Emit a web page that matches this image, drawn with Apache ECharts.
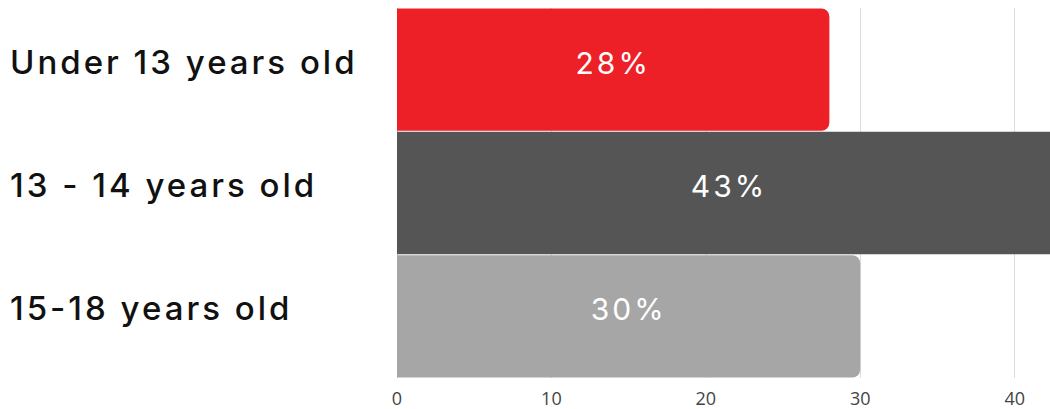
<!DOCTYPE html>
<html><head><meta charset="utf-8">
<script src="https://cdn.jsdelivr.net/npm/echarts@6/dist/echarts.min.js"></script>
<style>
html,body{margin:0;padding:0;background:#fff}
#c{width:1050px;height:409px}
#c text[style*="Inter"]{letter-spacing:3px}
</style>
</head><body><div id="c"></div>
<script>
const categories = ["Under 13 years old", "13 - 14 years old", "15-18 years old"];
const values = [28, 43, 30];
const barColors = ["#ED2027", "#555555", "#A6A6A6"];
const xTicks = [0, 10, 20, 30, 40];

const chart = echarts.init(document.getElementById('c'), null, { renderer: 'svg' });
chart.setOption({
  animation: false,
  grid: { left: 397, right: -11, top: 8, bottom: 31, containLabel: false, outerBoundsMode: 'none' },
  xAxis: {
    type: 'value', min: 0, max: 43, interval: 10,
    axisLine: { show: false }, axisTick: { show: false },
    splitLine: { show: true, lineStyle: { color: '#dddddd', width: 1 } },
    axisLabel: {
      color: '#444', fontFamily: 'Open Sans', fontSize: 18, margin: 11,
      formatter: v => xTicks.includes(v) ? String(v) : ''
    }
  },
  yAxis: {
    type: 'category', data: categories, inverse: true,
    axisLine: { show: false }, axisTick: { show: false },
    axisLabel: { align: 'left', margin: 387, color: '#111', fontFamily: 'Inter', fontWeight: 500, fontSize: 33, verticalAlign: 'bottom', lineHeight: 16 }
  },
  series: [{
    type: 'bar', barCategoryGap: '0.8%',
    data: values.map((v, i) => ({ value: v, itemStyle: { color: barColors[i] } })),
    itemStyle: { borderRadius: [0, 8, 8, 0] },
    label: { show: true, position: 'inside', color: '#fff', fontFamily: 'Inter', fontSize: 30, offset: [0, -7], formatter: p => p.value + '%' }
  }]
});
</script></body></html>
